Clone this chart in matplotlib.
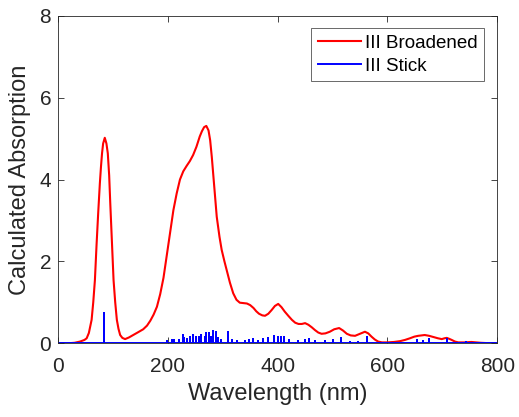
import numpy as np
import matplotlib
matplotlib.use("Agg")
import matplotlib.pyplot as plt

# broadened spectrum
wl_broad = [0, 20, 30, 40, 48, 52, 56, 61, 64, 67, 70, 73, 76, 78, 80, 82, 85, 88,
            90.5, 93, 95, 98, 101, 104, 107, 110, 113, 117, 122, 129,
            137, 146, 155, 162, 168, 174, 180, 186, 192, 198, 204, 210, 216, 222,
            228, 234, 240, 246, 252, 258, 262, 266, 270, 274, 277, 280, 283, 286,
            289, 294, 298, 303, 307, 313, 319, 325, 331, 338, 344, 350, 356, 361,
            366, 372, 377, 383, 389, 395, 401, 407, 413, 420, 426, 432, 438, 444,
            450, 456, 462, 468, 474, 480, 487, 495, 503, 512, 519, 526, 533, 541,
            550, 559, 565, 571, 577, 583, 590, 600, 612, 623, 632, 641, 649, 656,
            668, 676, 684, 692, 699, 704, 708, 712, 717, 723, 729, 740, 753, 762,
            770, 785, 800]
abs_broad = [0.0, 0.0, 0.01, 0.04, 0.08, 0.12, 0.25, 0.57, 1.0, 1.54, 2.4, 3.18,
             3.9, 4.3, 4.64, 4.88, 5.02, 4.88, 4.64, 4.1, 3.42, 2.5, 1.54, 1.0,
             0.57, 0.35, 0.2, 0.13, 0.1, 0.14,
             0.2, 0.27, 0.34, 0.43, 0.55, 0.7, 0.89, 1.2, 1.6, 2.15, 2.7, 3.25,
             3.66, 4.0, 4.2, 4.33, 4.45, 4.6, 4.8, 5.05, 5.18, 5.28, 5.31, 5.2,
             4.96, 4.55, 4.06, 3.55, 3.09, 2.6, 2.28, 2.0, 1.79, 1.48, 1.22, 1.06,
             0.99, 0.98, 0.97, 0.93, 0.86, 0.78, 0.72, 0.68, 0.67, 0.72, 0.81, 0.91,
             0.96, 0.88, 0.77, 0.66, 0.57, 0.5, 0.47, 0.47, 0.49, 0.45, 0.39, 0.32,
             0.26, 0.23, 0.24, 0.28, 0.34, 0.37, 0.31, 0.23, 0.19, 0.18, 0.23, 0.28,
             0.24, 0.16, 0.09, 0.04, 0.02, 0.02, 0.03, 0.05, 0.08, 0.12, 0.16, 0.18,
             0.2, 0.18, 0.15, 0.12, 0.1, 0.12, 0.13, 0.11, 0.08, 0.04, 0.02, 0.02,
             0.03, 0.02, 0.01, 0.0, 0.0]

# stick transitions
wl_stick = [84, 199, 207, 211, 220, 227, 229, 234, 240, 246, 252, 257, 261, 267,
            270, 275, 279, 283, 287, 291, 297, 310, 316, 325, 340, 348, 355, 364,
            374, 382, 394, 400, 406, 411, 421, 437, 449, 458, 468, 486, 501, 515,
            532, 547, 562, 653, 665, 676, 708, 744]
abs_stick = [0.73, 0.06, 0.07, 0.08, 0.07, 0.19, 0.12, 0.1, 0.16, 0.19, 0.16, 0.14,
             0.2, 0.15, 0.26, 0.24, 0.16, 0.29, 0.28, 0.12, 0.08, 0.27, 0.08, 0.06,
             0.06, 0.08, 0.1, 0.06, 0.11, 0.12, 0.18, 0.14, 0.16, 0.14, 0.07, 0.06,
             0.08, 0.1, 0.06, 0.05, 0.07, 0.12, 0.03, 0.04, 0.16, 0.08, 0.06, 0.1,
             0.1, 0.03]

# stick spectrum as one line: baseline with spikes
sx = [0]
sy = [0]
for w, h in zip(wl_stick, abs_stick):
    sx += [w, w, w]
    sy += [0, h, 0]
sx.append(800)
sy.append(0)

plt.rcParams['font.family'] = ['Liberation Sans', 'DejaVu Sans']
gray = '#262626'

fig = plt.figure(figsize=(5.19, 4.17), dpi=100)
ax = fig.add_axes([0.112, 0.177, 0.846, 0.785])

ax.plot(wl_broad, abs_broad, color='#ff0000', lw=1.5, label='III Broadened')
ax.plot(sx, sy, color='#0000ff', lw=1.4, label='III Stick')

ax.set_xlim(0, 800)
ax.set_ylim(0, 8)
ax.set_xticks([0, 200, 400, 600, 800])
ax.set_yticks([0, 2, 4, 6, 8])
ax.tick_params(direction='in', top=True, right=True, length=4, width=0.6,
               labelsize=15, colors=gray, pad=5)
ax.tick_params(axis='x', pad=10)
for s in ax.spines.values():
    s.set_color(gray)
    s.set_linewidth(0.6)

ax.set_xlabel('Wavelength (nm)', fontsize=17, color=gray, labelpad=5)
ax.set_ylabel('Calculated Absorption', fontsize=17, color=gray, labelpad=6)

leg = ax.legend(loc='upper right', fontsize=13.5, frameon=True, fancybox=False,
                handlelength=2.3, handletextpad=0.2, borderpad=0.35,
                labelspacing=0.3, borderaxespad=0,
                bbox_to_anchor=(0.970, 0.962))
leg.get_frame().set_edgecolor(gray)
leg.get_frame().set_linewidth(0.6)
for t in leg.get_texts():
    t.set_color('black')

fig.savefig('out.png', dpi=100)
